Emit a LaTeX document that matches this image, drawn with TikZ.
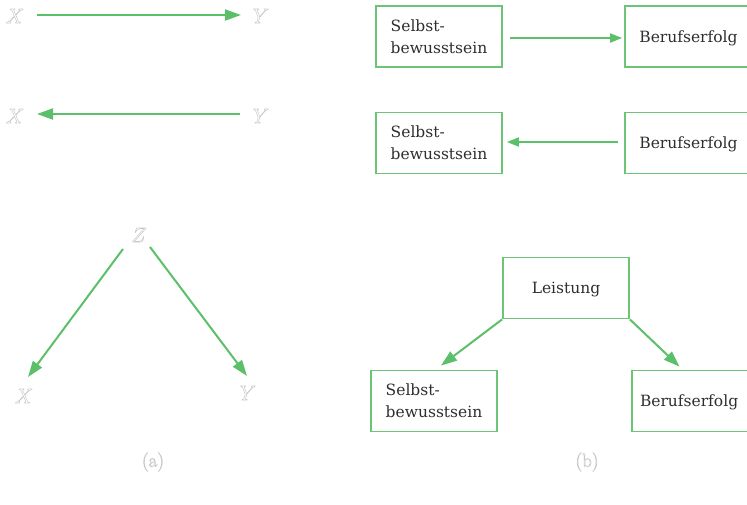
\documentclass[tikz,border=0pt]{standalone}
\usepackage{fontspec}
\usetikzlibrary{arrows.meta}
\newfontfamily\boxfont{DejaVu Serif}
\definecolor{grn}{HTML}{5CBF6A}
\definecolor{boxg}{HTML}{6CC476}
\definecolor{txt}{HTML}{2E2E2E}
\definecolor{ltr}{HTML}{C8C8C8}
\newcommand{\outl}[1]{\special{pdf:literal direct 1 Tr 0.5 w}#1\special{pdf:literal direct 0 Tr}}
\tikzset{
  box/.style={draw=boxg, line width=1.8pt, minimum width=126pt, minimum height=61pt,
    align=left, text=txt, font=\boxfont\fontsize{15.5}{22}\selectfont, inner sep=0pt},
  oneline/.style={text depth=0pt},
  var/.style={text=ltr, font=\fontsize{21}{24}\selectfont, inner sep=0pt},
  arr/.style={draw=grn, line width=2pt, -{Triangle[length=16pt,width=11pt]}},
  arrs/.style={draw=grn, line width=2pt, -{Triangle[length=12pt,width=9pt]}},
}
\begin{document}
\begin{tikzpicture}[x=1pt,y=-1pt]
\useasboundingbox (0,0) rectangle (747,504);
% left panel
\node[var] (x1) at (15,16) {\outl{$X$}};
\node[var] (y1) at (261,16) {\outl{$Y$}};
\node[var] (x2) at (15,116) {\outl{$X$}};
\node[var] (y2) at (261,116) {\outl{$Y$}};
\node[var] (z3) at (139,235) {\outl{$Z$}};
\node[var] (x3) at (24,396) {\outl{$X$}};
\node[var] (y3) at (248,393) {\outl{$Y$}};
\coordinate (a1s) at (37,15); \coordinate (a1e) at (241,15);
\coordinate (a2s) at (240,114); \coordinate (a2e) at (37,114);
\coordinate (a3s) at (123,249); \coordinate (a3e) at (28,377);
\coordinate (a4s) at (150,247); \coordinate (a4e) at (247,376);
\draw[arr] (a1s) -- (a1e);
\draw[arr] (a2s) -- (a2e);
\draw[arr] (a3s) -- (a3e);
\draw[arr] (a4s) -- (a4e);
\node[var, font=\fontsize{19}{23}\selectfont] (la) at (153,462) {\outl{(a)}};
% right panel
\node[box] (s1) at (439,36.5) {Selbst-\\bewusstsein};
\node[box, oneline, minimum width=127pt] (b1) at (688.5,36.5) {Berufserfolg};
\node[box] (s2) at (439,143) {Selbst-\\bewusstsein};
\node[box, oneline, minimum width=127pt] (b2) at (688.5,143) {Berufserfolg};
\node[box, oneline] (l3) at (566,288) {Leistung};
\node[box] (s3) at (434,401) {Selbst-\\bewusstsein};
\node[box, oneline, minimum width=127pt, text width=111pt, inner xsep=8pt] (b3) at (695.5,401) {Berufserfolg};
\draw[arrs] ([xshift=7pt,yshift=-1.5pt]s1.east) -- ([xshift=-2pt,yshift=-1.5pt]b1.west);
\draw[arrs] ([xshift=-6pt,yshift=1pt]b2.west) -- ([xshift=4pt,yshift=1pt]s2.east);
\draw[arr] (l3.south west) -- ([xshift=7pt,yshift=4pt]s3.north);
\draw[arr] (l3.south east) -- ([xshift=-16pt,yshift=3pt]b3.north);
\node[var, font=\fontsize{19}{23}\selectfont] (lb) at (587,462) {\outl{(b)}};
\end{tikzpicture}
\end{document}
